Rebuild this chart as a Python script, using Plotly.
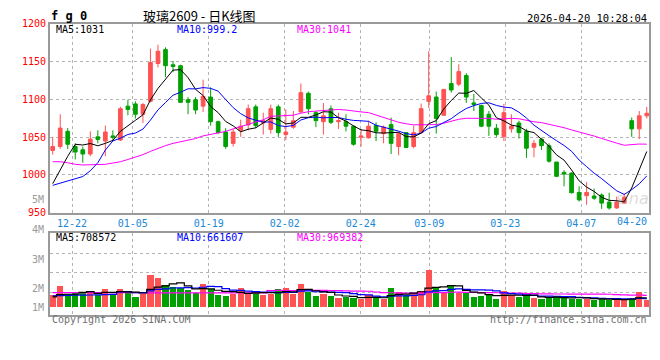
import plotly.graph_objects as go

# ---------------- data ----------------
date_labels = ["12-22", "01-05", "01-19", "02-02", "02-24", "03-09", "03-23", "04-07"]
date_index = [3, 11, 21, 31, 41, 50, 60, 70]
last_label = "04-20"

opens = [1032.5, 1037.6, 1057.7, 1037.6, 1033.3, 1027.7, 1050.4, 1044.9, 1051.7, 1046.2,
         1091.0, 1094.0, 1080.3, 1097.4, 1147.4, 1165.8, 1145.7, 1144.4, 1099.5, 1099.5,
         1091.0, 1103.0, 1070.5, 1056.8, 1041.8, 1059.0, 1066.2, 1090.1, 1068.8, 1060.2,
         1090.1, 1053.4, 1063.2, 1083.3, 1108.0, 1082.4, 1070.5, 1087.6, 1070.5, 1070.5,
         1064.5, 1050.0, 1049.1, 1065.4, 1054.7, 1066.6, 1037.6, 1056.0, 1037.6, 1056.0,
         1097.4, 1103.0, 1079.0, 1120.9, 1120.0, 1131.6, 1095.3, 1091.8, 1080.3, 1061.9,
         1050.4, 1061.0, 1068.8, 1057.6, 1036.7, 1047.4, 1038.8, 1017.1, 1003.4, 1002.5,
         976.9, 972.6, 972.2, 973.5, 964.1, 956.4, 962.8, 1071.8, 1061.0, 1078.2]
highs = [1050.4, 1080.3, 1062.0, 1041.9, 1037.6, 1057.7, 1059.0, 1065.4, 1059.0, 1090.2,
         1099.5, 1097.4, 1095.3, 1167.1, 1172.2, 1168.8, 1150.8, 1145.7, 1103.0, 1103.0,
         1126.0, 1115.8, 1071.8, 1061.9, 1061.0, 1073.0, 1093.1, 1093.1, 1082.4, 1093.1,
         1093.1, 1086.7, 1084.6, 1120.9, 1110.2, 1084.6, 1095.3, 1091.8, 1082.4, 1080.3,
         1065.3, 1061.0, 1071.8, 1069.7, 1065.4, 1076.0, 1056.8, 1056.8, 1065.3, 1094.4,
         1163.6, 1110.2, 1113.2, 1155.9, 1146.5, 1134.6, 1107.2, 1093.1, 1084.6, 1067.5,
         1094.0, 1080.3, 1071.8, 1061.0, 1046.1, 1049.1, 1041.8, 1017.1, 1006.4, 1003.4,
         985.0, 990.6, 982.0, 975.6, 976.5, 971.3, 975.6, 1076.0, 1084.6, 1090.1]
lows = [1026.9, 1034.6, 1034.2, 1020.5, 1016.2, 1024.8, 1041.9, 1024.8, 1044.9, 1044.9,
        1079.0, 1074.7, 1068.8, 1096.0, 1142.3, 1129.4, 1135.9, 1095.3, 1080.3, 1080.3,
        1083.3, 1065.3, 1054.7, 1034.6, 1037.6, 1050.4, 1059.0, 1061.9, 1053.4, 1054.7,
        1050.4, 1046.1, 1061.0, 1082.4, 1080.3, 1063.2, 1053.4, 1067.5, 1061.0, 1057.6,
        1038.8, 1037.6, 1048.3, 1044.9, 1041.9, 1027.7, 1026.0, 1036.0, 1035.4, 1054.7,
        1088.8, 1054.7, 1078.2, 1108.9, 1117.5, 1095.3, 1084.6, 1063.2, 1051.7, 1050.4,
        1044.8, 1056.0, 1048.2, 1022.6, 1023.5, 1033.3, 1016.2, 997.0, 985.0, 975.6,
        964.9, 960.6, 967.1, 955.1, 954.2, 955.1, 961.9, 1050.4, 1047.4, 1074.7]
closes = [1037.6, 1062.0, 1040.6, 1030.3, 1027.7, 1047.4, 1047.0, 1056.8, 1050.0, 1087.6,
          1086.7, 1080.3, 1093.1, 1148.7, 1163.6, 1144.4, 1143.5, 1096.1, 1096.1, 1085.9,
          1103.8, 1070.5, 1056.0, 1037.6, 1056.8, 1064.5, 1087.6, 1065.3, 1071.8, 1087.6,
          1056.0, 1056.8, 1071.8, 1108.9, 1087.6, 1071.8, 1078.2, 1069.6, 1071.8, 1064.5,
          1040.6, 1051.5, 1064.5, 1057.7, 1063.2, 1041.8, 1054.7, 1036.3, 1056.0, 1087.6,
          1104.7, 1074.7, 1113.2, 1112.4, 1136.7, 1103.0, 1093.1, 1064.5, 1064.5, 1053.4,
          1082.4, 1064.5, 1056.0, 1035.4, 1041.8, 1038.8, 1018.3, 998.2, 1001.2, 976.5,
          967.1, 976.9, 969.2, 962.8, 956.4, 964.1, 970.5, 1061.0, 1078.2, 1081.6]

# volume in millions of lots
volumes = [0.95, 1.67, 1.03, 1.13, 1.13, 1.26, 0.95, 1.44, 1.08, 1.44,
           1.21, 0.82, 1.08, 2.52, 2.31, 1.75, 1.59, 1.49, 1.34, 1.13,
           1.82, 1.46, 0.98, 0.90, 1.05, 1.52, 1.05, 1.18, 0.98, 1.08,
           1.44, 1.52, 1.08, 1.82, 1.21, 0.90, 1.08, 0.90, 0.75, 0.82,
           0.72, 0.65, 0.95, 0.75, 0.69, 1.52, 1.21, 1.00, 1.13, 1.28,
           2.92, 1.52, 1.18, 1.67, 1.15, 1.15, 0.82, 0.90, 1.00, 0.69,
           1.28, 0.95, 0.82, 0.95, 0.77, 0.62, 0.75, 0.88, 0.75, 0.69,
           0.69, 0.69, 0.57, 0.69, 0.57, 0.57, 0.57, 0.75, 1.21, 0.57]

# moving-average values at the start of the window (read from the chart,
# they depend on sessions before the first candle)
ma5_head = [988.5, 1007.7, 1024.8, 1040.6]
ma10_head = [986.3, 989.3, 992.7, 994.9, 997.9, 1005.6, 1016.2, 1033.0, 1045.0]
ma30_head = [1017.5, 1017.5, 1016.2, 1014.1, 1013.2, 1013.2, 1013.2, 1014.1, 1015.8, 1017.5,
             1020.5, 1023.5, 1026.9, 1031.2, 1035.4, 1038.8, 1041.8, 1044.0, 1045.7, 1048.2,
             1051.7, 1053.4, 1055.5, 1057.6, 1061.0, 1064.1, 1067.5, 1070.5, 1073.0]
vma5_head = [0.82, 1.00, 1.03, 1.03]
vma10_head = [0.90, 0.92, 0.94, 0.95, 0.96, 0.97, 0.98, 1.00, 1.02]
vma30_head = [1.15, 1.15, 1.15, 1.15, 1.15, 1.15, 1.15, 1.15, 1.15, 1.15,
              1.15, 1.15, 1.13, 1.13, 1.13, 1.13, 1.13, 1.13, 1.13, 1.13,
              1.13, 1.13, 1.13, 1.13, 1.13, 1.13, 1.13, 1.13, 1.13]

ma_text = ["MA5:1031", "MA10:999.2", "MA30:1041"]
vma_text = ["MA5:708572", "MA10:661607", "MA30:969382"]


def moving_avg(values, n, head):
    out = list(head)
    for i in range(len(head), len(values)):
        win = values[i - n + 1:i + 1]
        out.append(sum(win) / len(win))
    return out


xs = list(range(len(closes)))
ma5 = moving_avg(closes, 5, ma5_head)
ma10 = moving_avg(closes, 10, ma10_head)
ma30 = moving_avg(closes, 30, ma30_head)
vma5 = moving_avg(volumes, 5, vma5_head)
vma10 = moving_avg(volumes, 10, vma10_head)
vma30 = moving_avg(volumes, 30, vma30_head)

# ---------------- styling / geometry ----------------
W, H = 660, 360
RED = "#ff5252"
GREEN = "#00a000"
MONO = "DejaVu Sans Mono"
GRID = "#b4b4b4"
FRAME = "#9a9a9a"

def px(x):
    return x / W

def py(y):
    return 1 - y / H

X0, X1 = 50, 649.3
C0, DX = 52.7, 7.52            # first candle centre and spacing (px)
xrange_ = [(X0 - C0) / DX, (X1 - C0) / DX]
grid_x = [(72 + (d - 3) * 7.6 - C0) / DX for d in date_index]

# volume pixel scale
V_BASE, V_PPM = 310.7, 13.0
def vol_at(y):
    return (V_BASE - y) / V_PPM

fig = go.Figure()

fig.add_trace(go.Candlestick(
    x=xs, open=opens, high=highs, low=lows, close=closes,
    increasing=dict(line=dict(color=RED, width=1), fillcolor=RED),
    decreasing=dict(line=dict(color=GREEN, width=1), fillcolor=GREEN),
    whiskerwidth=0, xaxis="x", yaxis="y", showlegend=False, hoverinfo="skip"))

for vals, col in [(ma30, "#ff00ff"), (ma10, "#0000ff"), (ma5, "#000000")]:
    fig.add_trace(go.Scatter(x=xs, y=vals, mode="lines", line=dict(color=col, width=1),
                             xaxis="x", yaxis="y", showlegend=False, hoverinfo="skip"))

vol_colors = [RED if c >= o else GREEN for o, c in zip(opens, closes)]
fig.add_trace(go.Bar(x=xs, y=volumes, marker=dict(color=vol_colors, line=dict(width=0)),
                     width=0.82, xaxis="x2", yaxis="y2", showlegend=False, hoverinfo="skip"))
for vals, col in [(vma30, "#ff00ff"), (vma10, "#0000ff"), (vma5, "#000000")]:
    fig.add_trace(go.Scatter(x=xs, y=vals, mode="lines", line=dict(color=col, width=1.2, shape="hvh"),
                             xaxis="x2", yaxis="y2", showlegend=False, hoverinfo="skip"))

axis_common = dict(showline=True, mirror=True, linecolor=FRAME, linewidth=2,
                   zeroline=False, showgrid=True, gridcolor=GRID, griddash="dot", gridwidth=1,
                   ticks="", fixedrange=True)

fig.update_layout(
    width=W, height=H, margin=dict(l=0, r=0, t=0, b=0),
    paper_bgcolor="white", plot_bgcolor="white",
    boxgap=0.3, bargap=0,
    xaxis=dict(domain=[px(X0), px(X1)], range=xrange_, anchor="y",
               tickvals=grid_x, ticktext=date_labels,
               tickfont=dict(family=MONO, size=10, color="#1a88d8"),
               rangeslider=dict(visible=False), **axis_common),
    yaxis=dict(domain=[py(213.3), py(18.3)], range=[950, 1200], anchor="x",
               tickvals=[950, 1000, 1050, 1100, 1150, 1200],
               tickfont=dict(family=MONO, size=10, color="#ff0000"), **axis_common),
    xaxis2=dict(domain=[px(X0), px(X1)], range=xrange_, anchor="y2",
                tickvals=grid_x, showticklabels=False, **axis_common),
    yaxis2=dict(domain=[py(318.3), py(234)], range=[vol_at(318.3), vol_at(234)], anchor="x2",
                tickvals=[vol_at(295.7), vol_at(275.3), vol_at(255)], showticklabels=False,
                **axis_common),
)

ann = []
def text(x, y, s, color="#000000", size=10, xanchor="left", family=MONO, bold=False):
    if bold:
        s = "<b>" + s + "</b>"
    ann.append(dict(x=px(x), y=py(y), xref="paper", yref="paper", text=s, showarrow=False,
                    xanchor=xanchor, yanchor="middle",
                    font=dict(family=family, size=size, color=color)))

text(49, 10.5, "f g 0", size=12, bold=True)
text(199, 10, "玻璃2609 - 日K线图", size=13, xanchor="center", family="Noto Sans CJK SC")
text(649, 12, "2026-04-20 10:28:04", size=10.5, xanchor="right")

text(54, 24, ma_text[0], "#000000")
text(175, 24, ma_text[1], "#0000ff")
text(295, 24, ma_text[2], "#ff00ff")

text(54, 238.3, vma_text[0], "#000000")
text(175, 238.3, vma_text[1], "#0000ff")
text(295, 238.3, vma_text[2], "#ff00ff")

text(649, 222, last_label, "#1a88d8", xanchor="right")
text(46, 200, "5M", "#9a9a9a", xanchor="right")
for lab, y in [("4M", 231), ("3M", 261), ("2M", 291), ("1M", 311)]:
    text(46, y, lab, "#9a9a9a", xanchor="right")

text(50, 323.5, "Copyright 2026 SINA.COM", "#707070")
text(649, 323.5, "http://finance.sina.com.cn", "#707070", xanchor="right")
text(651, 199, "<i>sina</i>", "rgba(150,150,150,0.35)", size=16, xanchor="right", family="DejaVu Sans")

fig.update_layout(annotations=ann)
fig.write_html("out.html", config={"displayModeBar": False, "staticPlot": True},
               post_script="document.body.style.margin='0px';document.body.style.overflow='hidden';")
